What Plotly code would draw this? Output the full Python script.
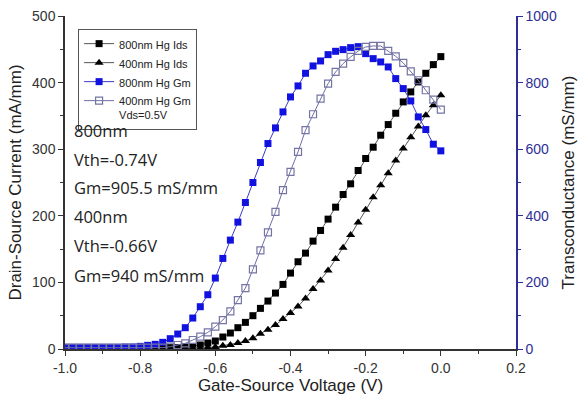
import plotly.graph_objects as go

# ---------------- data ----------------
vgs = [round(-1.0 + 0.02 * i, 2) for i in range(51)]

ids_800 = [2, 2, 2, 2, 2, 2, 2, 2, 2, 2,
           2, 2, 2, 2, 2, 2, 3, 4, 6, 9,
           12, 18, 24, 32, 40, 50, 61, 72, 84, 97,
           114, 131, 144, 162, 178, 195, 213, 232, 248, 268,
           286, 303, 321, 337, 354, 371, 386, 401, 414, 427, 439]

ids_400 = [1, 1, 1, 1, 1, 1, 1, 1, 1, 1,
           1, 1, 1, 1, 1, 1, 1, 1, 1, 2,
           3, 5, 6, 9, 12, 16, 23, 29, 36, 45,
           54, 64, 76, 90, 103, 118, 135, 152, 171, 190,
           209, 228, 246, 264, 283, 301, 318, 334, 351, 366, 381]

gm_800 = [5, 5, 5, 5, 5, 5, 5, 5, 6, 6,
          8, 11, 14, 20, 31, 45, 64, 93, 127, 163,
          213, 272, 327, 381, 440, 500, 560, 617, 664, 712,
          757, 790, 828, 850, 865, 884, 894, 899, 905, 908,
          887, 872, 862, 847, 812, 782, 745, 697, 659, 615, 595]

gm_400 = [4, 4, 4, 4, 4, 4, 4, 4, 4, 4,
          4, 4, 4, 4, 7, 12, 17, 27, 37, 50,
          67, 87, 113, 147, 183, 239, 296, 350, 412, 477,
          532, 592, 657, 705, 752, 797, 832, 857, 877, 895,
          907, 910, 910, 895, 879, 859, 834, 807, 777, 749, 719]

series_names = ["800nm Hg Ids", "400nm Hg Ids", "800nm Hg Gm", "400nm Hg Gm"]
legend_note = "Vds=0.5V"

x_tickvals = [-1.0, -0.8, -0.6, -0.4, -0.2, 0.0, 0.2]
x_ticktext = ["-1.0", "-0.8", "-0.6", "-0.4", "-0.2", "0.0", "0.2"]
yl_tickvals = [0, 100, 200, 300, 400, 500]
yr_tickvals = [0, 200, 400, 600, 800, 1000]

annot_texts = ["800nm", "Vth=-0.74V", "Gm=905.5 mS/mm",
               "400nm", "Vth=-0.66V", "Gm=940 mS/mm"]

# ---------------- figure ----------------
NAVY = "#2e2e96"
AX = "#333333"

fig = go.Figure()

fig.add_trace(go.Scatter(
    x=vgs, y=ids_800, name=series_names[0], mode="lines+markers",
    line=dict(color="#555555", width=1),
    marker=dict(symbol="square", size=7, color="#000000"),
    xaxis="x", yaxis="y"))

fig.add_trace(go.Scatter(
    x=vgs, y=ids_400, name=series_names[1], mode="lines+markers",
    line=dict(color="#555555", width=1),
    marker=dict(symbol="triangle-up", size=8, color="#000000"),
    xaxis="x", yaxis="y"))

fig.add_trace(go.Scatter(
    x=vgs, y=gm_800, name=series_names[2], mode="lines+markers",
    line=dict(color="#3a3ac8", width=1),
    marker=dict(symbol="square", size=7, color="#1212e0"),
    xaxis="x", yaxis="y2"))

fig.add_trace(go.Scatter(
    x=vgs, y=gm_400, name=series_names[3] + "<br>" + legend_note,
    mode="lines+markers",
    line=dict(color="#6e6ea8", width=1),
    marker=dict(symbol="square-open", size=7, color="#7474a4",
                line=dict(width=1.2)),
    xaxis="x", yaxis="y2"))

tickfont = dict(family="Liberation Sans, Arial", size=14, color=AX)
titlefont = dict(family="Liberation Sans, Arial", size=17, color="#222222")

fig.update_layout(
    width=581, height=403,
    margin=dict(l=65, r=65, t=16, b=54),
    paper_bgcolor="white", plot_bgcolor="white",
    showlegend=True,
    legend=dict(
        x=0.029, y=0.961, xanchor="left", yanchor="top",
        bgcolor="white", bordercolor="#555555", borderwidth=1,
        font=dict(family="Liberation Sans, Arial", size=11, color="#222222"),
        tracegroupgap=0, itemwidth=30, valign="top",
    ),
    xaxis=dict(
        range=[-1.0, 0.2], tickvals=x_tickvals, ticktext=x_ticktext,
        ticks="outside", ticklen=5, tickwidth=1, tickcolor=AX,
        minor=dict(dtick=0.1, ticks="outside", ticklen=3, tickcolor=AX),
        showline=True, linecolor=AX, linewidth=1.5,
        showgrid=False, zeroline=False, tickfont=tickfont, automargin=False,
        title=dict(text="Gate-Source Voltage (V)", font=titlefont, standoff=4),
    ),
    xaxis2=dict(
        range=[-1.0, 0.2], overlaying="x", side="top", anchor="y",
        tickvals=x_tickvals, showticklabels=False, automargin=False,
        ticks="inside", ticklen=5, tickcolor=AX,
        minor=dict(dtick=0.1, ticks="inside", ticklen=3, tickcolor=AX),
        showline=True, linecolor=AX, linewidth=1.5,
        showgrid=False, zeroline=False,
    ),
    yaxis=dict(
        range=[0, 500], tickvals=yl_tickvals,
        ticks="outside", ticklen=5, tickcolor=AX,
        minor=dict(dtick=50, ticks="outside", ticklen=3, tickcolor=AX),
        showline=True, linecolor=AX, linewidth=1.5,
        showgrid=False, zeroline=False, tickfont=tickfont, automargin=False,
        title=dict(text="Drain-Source Current (mA/mm)", font=titlefont, standoff=6),
    ),
    yaxis2=dict(
        range=[0, 1000], tickvals=yr_tickvals, overlaying="y", side="right",
        anchor="x", automargin=False,
        ticks="outside", ticklen=5, tickcolor=NAVY,
        minor=dict(dtick=100, ticks="outside", ticklen=3, tickcolor=NAVY),
        showline=True, linecolor=NAVY, linewidth=1.5,
        showgrid=False, zeroline=False,
        tickfont=dict(family="Liberation Sans, Arial", size=14, color=NAVY),
        title=dict(text="Transconductance (mS/mm)", font=titlefont, standoff=6),
    ),
)

# legend drop shadow
fig.add_shape(type="rect", xref="paper", yref="paper",
              x0=0.040, x1=0.292, y0=0.670, y1=0.945,
              fillcolor="black", line=dict(width=0), layer="below")

# annotations text
ann_y = [0.6547, 0.5676, 0.4835, 0.3964, 0.3123, 0.2222]
for txt, yy in zip(annot_texts, ann_y):
    fig.add_annotation(text=txt, xref="paper", yref="paper", x=0.016, y=yy,
                       xanchor="left", yanchor="middle", showarrow=False,
                       font=dict(family="Open Sans", size=16.5, color="#222222"))

fig.write_html("out.html", config={"displayModeBar": False},
               post_script="document.body.style.margin='0';")
